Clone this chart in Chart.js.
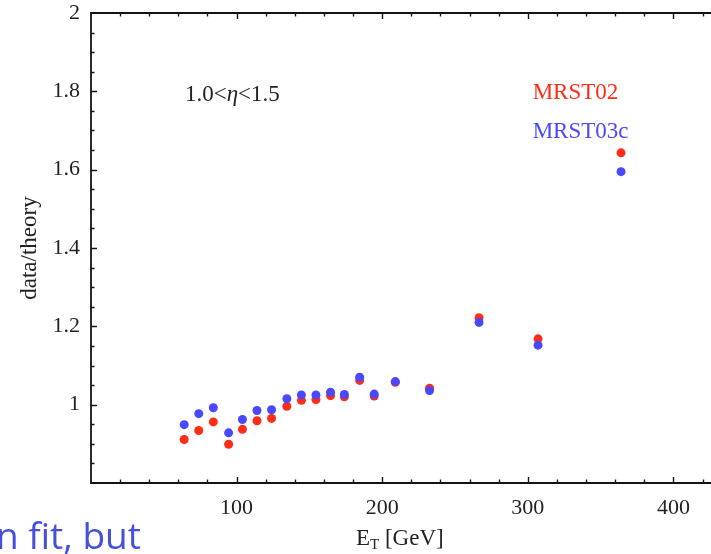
<!DOCTYPE html>
<html>
<head>
<meta charset="utf-8">
<title>data/theory vs E_T</title>
<script src="https://cdn.jsdelivr.net/npm/chart.js@4/dist/chart.umd.min.js"></script>
<style>
    html, body { margin: 0; padding: 0; background: #fff; }
    #ratio-chart { display: block; }
</style>
</head>
<body>
<canvas id="ratio-chart" width="711" height="554"></canvas>
<script>
'use strict';

// E_T bin centres [GeV]
const etValues = [64, 74, 84, 94.5, 104, 114, 124, 134.5, 144.5, 154.5, 164.5, 174, 184.5, 194.5, 209, 232.5, 266.5, 307, 364];

// data/theory ratios
const mrst02 = [0.911, 0.934, 0.956, 0.899, 0.937, 0.959, 0.965, 0.996, 1.011, 1.013, 1.023, 1.020, 1.062, 1.022, 1.057, 1.042, 1.222, 1.168, 1.643];
const mrst03c = [0.949, 0.977, 0.992, 0.928, 0.962, 0.985, 0.987, 1.015, 1.025, 1.025, 1.032, 1.026, 1.070, 1.027, 1.059, 1.036, 1.210, 1.152, 1.595];

// tick labels
const xTickValues = [100, 200, 300, 400];
const yTickValues = [1, 1.2, 1.4, 1.6, 1.8, 2];

const RED = '#ff2d16';
const BLUE = '#4a48ff';
const SERIF = '"Liberation Serif", "Times New Roman", serif';

function toPoints(xs, ys) {
    return xs.map(function (x, i) { return { x: x, y: ys[i] }; });
}

// frame with inward ticks (mathematica style); the plot is cut at the right edge
const frameTicks = {
    id: 'frameTicks',
    beforeDatasetsDraw: function (chart) {
        const ctx = chart.ctx;
        const a = chart.chartArea;
        const x = chart.scales.x;
        const y = chart.scales.y;

        ctx.save();
        ctx.strokeStyle = '#141414';
        ctx.lineWidth = 1.8;
        ctx.beginPath();
        ctx.moveTo(chart.width, a.top);
        ctx.lineTo(a.left, a.top);
        ctx.lineTo(a.left, a.bottom);
        ctx.lineTo(chart.width, a.bottom);
        ctx.stroke();

        ctx.lineWidth = 1.4;
        ctx.beginPath();
        for (let v = 20; v < x.max; v += 20) {
            const px = Math.round(x.getPixelForValue(v)) + 0.5;
            const len = v % 100 === 0 ? 6 : 3.5;
            ctx.moveTo(px, a.bottom);
            ctx.lineTo(px, a.bottom - len);
            ctx.moveTo(px, a.top);
            ctx.lineTo(px, a.top + len);
        }
        for (let i = 1; i < 24; i++) {
            const v = 0.8 + i * 0.05;
            const py = Math.round(y.getPixelForValue(v)) + 0.5;
            const len = i % 4 === 0 ? 6 : 3.5;
            ctx.moveTo(a.left, py);
            ctx.lineTo(a.left + len, py);
        }
        ctx.stroke();
        ctx.restore();
    }
};

// titles, labels inside the frame, slide text fragment
const labels = {
    id: 'labels',
    afterDraw: function (chart) {
        const ctx = chart.ctx;
        const x = chart.scales.x;
        const y = chart.scales.y;

        ctx.save();
        ctx.textBaseline = 'alphabetic';
        ctx.textAlign = 'left';

        // y title
        ctx.save();
        ctx.translate(36, 248);
        ctx.rotate(-Math.PI / 2);
        ctx.textAlign = 'center';
        ctx.fillStyle = '#222';
        ctx.font = '23px ' + SERIF;
        ctx.fillText('data/theory', 0, 0);
        ctx.restore();

        // x title E_T [GeV]
        ctx.fillStyle = '#222';
        let cx = 356;
        ctx.font = '23px ' + SERIF;
        ctx.fillText('E', cx, 545);
        cx += ctx.measureText('E').width;
        ctx.font = '15px ' + SERIF;
        ctx.fillText('T', cx, 549);
        cx += ctx.measureText('T').width;
        ctx.font = '23px ' + SERIF;
        ctx.fillText(' [GeV]', cx, 545);

        // eta range
        let ex = x.getPixelForValue(64.5);
        const ey = y.getPixelForValue(1.793) + 7;
        ctx.font = '23px ' + SERIF;
        ctx.fillText('1.0<', ex, ey);
        ex += ctx.measureText('1.0<').width;
        ctx.font = 'italic 23px ' + SERIF;
        ctx.fillText('\u03b7', ex, ey);
        ex += ctx.measureText('\u03b7').width;
        ctx.font = '23px ' + SERIF;
        ctx.fillText('<1.5', ex, ey);

        // series names
        ctx.font = '23px ' + SERIF;
        ctx.fillStyle = RED;
        ctx.fillText('MRST02', x.getPixelForValue(303.3), y.getPixelForValue(1.80) + 8);
        ctx.fillStyle = BLUE;
        ctx.fillText('MRST03c', x.getPixelForValue(303.3), y.getPixelForValue(1.701) + 8);

        // fragment of slide text under the plot
        ctx.font = '37px "Open Sans", sans-serif';
        ctx.fillStyle = '#4650dc';
        ctx.fillText('n fit, but', -4, 549);

        ctx.restore();
    }
};

function initRatioChart() {
    if (typeof Chart === 'undefined') {
        setTimeout(initRatioChart, 100);
        return;
    }

    const canvas = document.getElementById('ratio-chart');
    const ctx = canvas.getContext('2d');

    new Chart(ctx, {
        type: 'scatter',
        data: {
            datasets: [{
                label: 'MRST03c',
                data: toPoints(etValues, mrst03c),
                backgroundColor: BLUE,
                borderColor: BLUE,
                borderWidth: 0,
                pointRadius: 4.5,
                order: 0
            }, {
                label: 'MRST02',
                data: toPoints(etValues, mrst02),
                backgroundColor: RED,
                borderColor: RED,
                borderWidth: 0,
                pointRadius: 4.5,
                order: 1
            }]
        },
        options: {
            responsive: false,
            animation: false,
            layout: {
                padding: { top: 13, right: 0, bottom: 0, left: 0 }
            },
            plugins: {
                legend: { display: false },
                tooltip: { enabled: false }
            },
            scales: {
                x: {
                    type: 'linear',
                    min: 0,
                    max: 422.7,
                    grid: { display: false, drawTicks: false },
                    border: { display: false },
                    afterBuildTicks: function (scale) {
                        scale.ticks = xTickValues.map(function (v) { return { value: v }; });
                    },
                    afterFit: function (scale) {
                        scale.height = 71;
                        scale.paddingLeft = 0;
                        scale.paddingRight = 0;
                    },
                    ticks: {
                        autoSkip: false,
                        maxRotation: 0,
                        padding: 12,
                        color: '#222',
                        font: { family: SERIF, size: 22 },
                        callback: function (v) { return String(v); }
                    }
                },
                y: {
                    type: 'linear',
                    min: 0.8,
                    max: 2,
                    grid: { display: false, drawTicks: false },
                    border: { display: false },
                    afterBuildTicks: function (scale) {
                        scale.ticks = yTickValues.map(function (v) { return { value: v }; });
                    },
                    afterFit: function (scale) {
                        scale.width = 91;
                        scale.paddingTop = 0;
                        scale.paddingBottom = 0;
                    },
                    ticks: {
                        autoSkip: false,
                        padding: 11,
                        color: '#222',
                        font: { family: SERIF, size: 22 },
                        callback: function (v) {
                            return Number.isInteger(v) ? String(v) : v.toFixed(1);
                        }
                    }
                }
            }
        },
        plugins: [frameTicks, labels]
    });
}

if (document.readyState === 'loading') {
    document.addEventListener('DOMContentLoaded', initRatioChart);
} else {
    initRatioChart();
}
</script>
</body>
</html>
